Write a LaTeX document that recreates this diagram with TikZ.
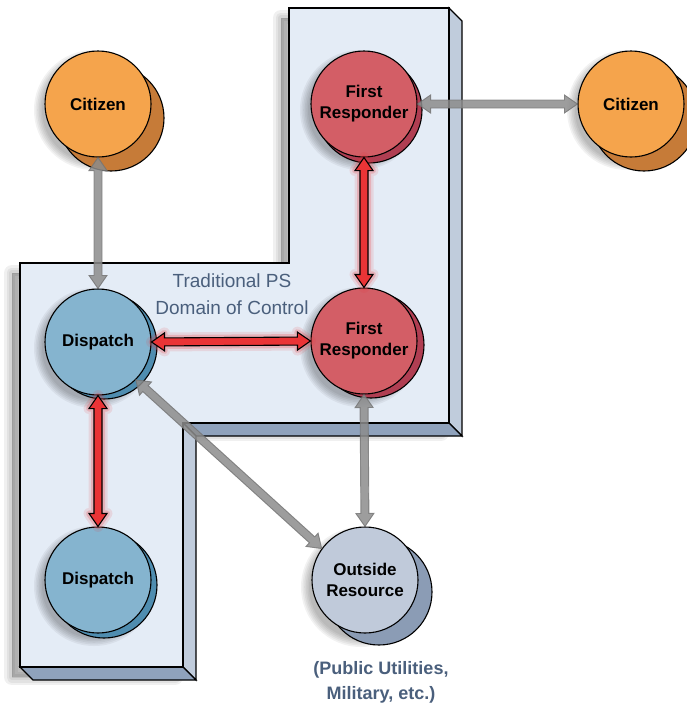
\documentclass[tikz,border=0pt]{standalone}
\usepackage{fontspec}
\setmainfont{Liberation Sans}
\usetikzlibrary{calc}
\definecolor{panelF}{HTML}{E4ECF6}
\definecolor{panelS}{HTML}{C0CCDC}
\definecolor{panelB}{HTML}{8FA2BC}
\definecolor{citF}{HTML}{F5A44C}
\definecolor{citB}{HTML}{C67B38}
\definecolor{frF}{HTML}{D35E66}
\definecolor{frB}{HTML}{B03E52}
\definecolor{dsF}{HTML}{85B4CF}
\definecolor{dsB}{HTML}{4F8DB0}
\definecolor{orF}{HTML}{C0CADA}
\definecolor{orB}{HTML}{8B9CB5}
\definecolor{slate}{HTML}{4A5F7C}
\definecolor{arrR}{HTML}{EA3436}
\definecolor{arrG}{HTML}{8C8C8C}
\def\hl{13pt}\def\hw{9pt}\def\sw{4pt}
\newcommand\dblarr[3]{%
  \draw[#1] (#2) -- ($(#2)!\hl!(#3)!\hw!90:(#3)$) -- ($(#2)!\hl!(#3)!\sw!90:(#3)$)
   -- ($(#3)!\hl!(#2)!\sw!-90:(#2)$) -- ($(#3)!\hl!(#2)!\hw!-90:(#2)$) -- (#3)
   -- ($(#3)!\hl!(#2)!\hw!90:(#2)$) -- ($(#3)!\hl!(#2)!\sw!90:(#2)$)
   -- ($(#2)!\hl!(#3)!\sw!-90:(#3)$) -- ($(#2)!\hl!(#3)!\hw!-90:(#3)$) -- cycle;}
\newcommand\redarr[2]{%
  \dblarr{draw=arrR, line width=11pt, opacity=0.12, line join=round}{#1}{#2}%
  \dblarr{draw=arrR, line width=6pt, opacity=0.22, line join=round}{#1}{#2}%
  \dblarr{redarrow}{#1}{#2}}
\newcommand\softshadow[3]{%
  \foreach \k in {0,...,5}{\fill[black, opacity=0.05] (#1,#2) circle ({#3+7-1.6*\k});}}
\tikzset{
  disc/.style={circle, draw=black, line width=1.1pt, minimum size=106pt, inner sep=0pt,
    align=center, font=\fontsize{17}{21}\selectfont\bfseries},
  backdisc/.style={circle, draw=black, line width=1.1pt, minimum size=106pt, inner sep=0pt},
  grayarrow/.style={fill=arrG, fill opacity=0.85, draw=black!55, draw opacity=0.8, line width=0.9pt, line join=miter},
  redarrow/.style={fill=arrR, draw=black, line width=1.1pt, line join=miter},
  face/.style={draw=black, line width=1.2pt, line join=miter},
}
\begin{document}
\begin{tikzpicture}[x=1pt,y=-1pt]
\useasboundingbox (0,0) rectangle (686,707);
% panel shadow
\foreach \w in {16,11,6,1}{
  \draw[black, opacity=0.06, fill=black, fill opacity=0.06, line width=\w pt, line join=round]
   (12,273) -- (281,273) -- (281,18) -- (441,18) -- (441,433) -- (175,433) -- (175,677) -- (12,677) -- cycle;}
% panel faces
\fill[white] (20,263) -- (289,263) -- (289,8) -- (449,8) -- (462,21) -- (462,436) -- (196,436) -- (196,680) -- (33,680) -- (20,667) -- cycle;
\draw[face, fill=panelS] (449,8) -- (462,21) -- (462,436) -- (449,423) -- cycle;
\draw[face, fill=panelB] (183,423) -- (449,423) -- (462,436) -- (196,436) -- cycle;
\draw[face, fill=panelS] (183,423) -- (196,436) -- (196,680) -- (183,667) -- cycle;
\draw[face, fill=panelB] (20,667) -- (183,667) -- (196,680) -- (33,680) -- cycle;
\draw[face, fill=panelF] (20,263) -- (289,263) -- (289,8) -- (449,8) -- (449,423) -- (183,423) -- (183,667) -- (20,667) -- cycle;
\node[font=\fontsize{19}{27}\selectfont, text=slate, align=center] (tps) at (232,294) {Traditional PS\\Domain of Control};
% shadows of discs
\softshadow{94}{110}{53}
\softshadow{627}{110}{53}
\softshadow{360}{110}{53}
\softshadow{360}{347}{53}
\softshadow{94}{348}{53}
\softshadow{94}{586}{53}
\softshadow{361}{587}{53}
% back discs
\node[backdisc, fill=citB] (cit1b) at (111,118) {};
\node[backdisc, fill=citB] (cit2b) at (644,118) {};
\node[backdisc, fill=frB] (fr1b) at (369,110) {};
\node[backdisc, fill=frB] (fr2b) at (371,345) {};
\node[backdisc, fill=dsB] (ds1b) at (104,346) {};
\node[backdisc, fill=dsB] (ds2b) at (104,585) {};
\node[backdisc, fill=orB] (orb) at (379,592) {};
% front discs
\node[disc, fill=citF] (cit1) at (98,104) {Citizen};
\node[disc, fill=citF] (cit2) at (631,104) {Citizen};
\node[disc, fill=frF] (fr1) at (364,104) {First\\Responder};
\node[disc, fill=frF] (fr2) at (364,341) {First\\Responder};
\node[disc, fill=dsF] (ds1) at (98,342) {Dispatch};
\node[disc, fill=dsF] (ds2) at (98,580) {Dispatch};
\node[disc, fill=orF] (out) at (365,580) {Outside\\Resource};
% arrows
\dblarr{grayarrow}{cit1.south}{ds1.north}
\dblarr{grayarrow}{fr1.east}{cit2.west}
\dblarr{grayarrow}{ds1.-45}{out.144}
\dblarr{grayarrow}{fr2.south}{out.north}
\redarr{fr1.south}{fr2.north}
\redarr{ds1.east}{fr2.west}
\redarr{ds1.south}{ds2.north}
\node[font=\fontsize{18}{25}\selectfont\bfseries, text=slate, align=center] (note) at (381,682) {(Public Utilities,\\Military, etc.)};
\end{tikzpicture}
\end{document}
